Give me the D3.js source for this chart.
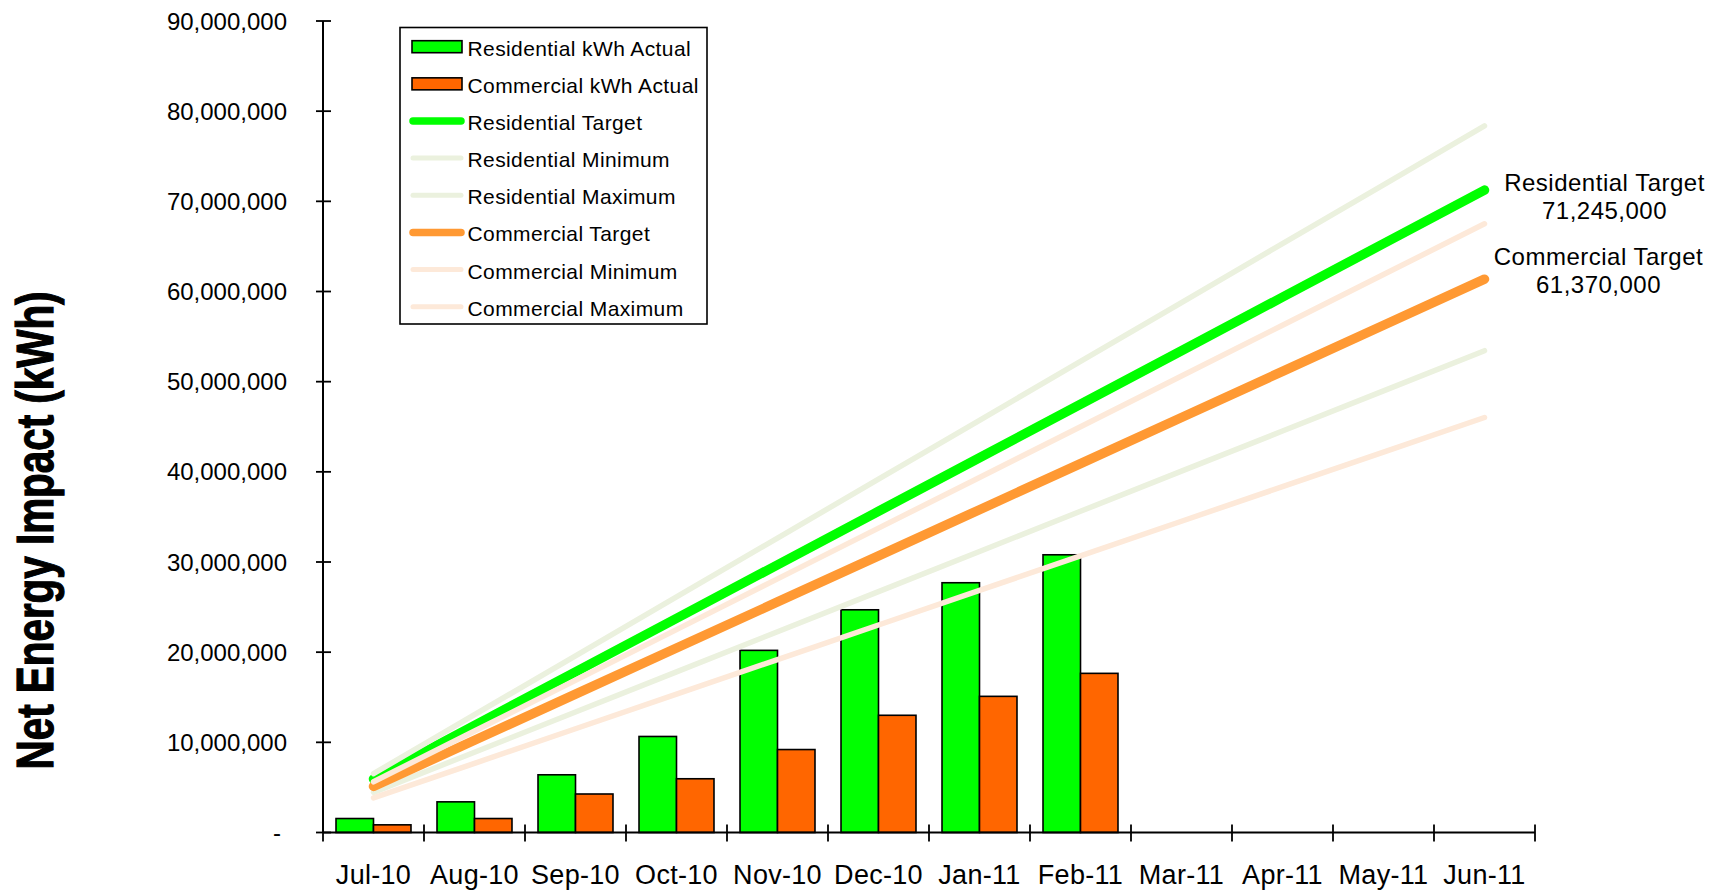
<!DOCTYPE html>
<html>
<head>
<meta charset="utf-8">
<script src="https://cdn.jsdelivr.net/npm/d3@7"></script>
<style>
  body { margin: 0; background: #fff; }
  text { font-family: "Liberation Sans", Arial, sans-serif; fill: #000; }
</style>
</head>
<body>
<svg id="chart" width="1724" height="895"></svg>
<script>
// ---- data ----
const months = ["Jul-10","Aug-10","Sep-10","Oct-10","Nov-10","Dec-10","Jan-11","Feb-11","Mar-11","Apr-11","May-11","Jun-11"];
const residentialActual = [1550000, 3400000, 6400000, 10650000, 20200000, 24700000, 27700000, 30800000];
const commercialActual  = [850000, 1550000, 4270000, 5960000, 9200000, 13000000, 15100000, 17650000];
const residentialTarget = [5937083, 11874167, 17811250, 23748333, 29685417, 35622500, 41559583, 47496667, 53433750, 59370833, 65307917, 71245000];
const residentialMinimum = [4452813, 8905625, 13358438, 17811250, 22264063, 26716875, 31169688, 35622500, 40075313, 44528125, 48980938, 53433750];
const residentialMaximum = [6530792, 13061583, 19592375, 26123167, 32653958, 39184750, 45715542, 52246333, 58777125, 65307917, 71838708, 78369500];
const commercialTarget = [5114167, 10228333, 15342500, 20456667, 25570833, 30685000, 35799167, 40913333, 46027500, 51141667, 56255833, 61370000];
const commercialMinimum = [3835625, 7671250, 11506875, 15342500, 19178125, 23013750, 26849375, 30685000, 34520625, 38356250, 42191875, 46027500];
const commercialMaximum = [5625583, 11251167, 16876750, 22502333, 28127917, 33753500, 39379083, 45004667, 50630250, 56255833, 61881417, 67507000];
const yTicks = [0, 10000000, 20000000, 30000000, 40000000, 50000000, 60000000, 70000000, 80000000, 90000000];
const yTitle = "Net Energy Impact (kWh)";
const barSeries = [
  { name: "Residential kWh Actual", values: residentialActual, color: "#00FF00" },
  { name: "Commercial kWh Actual",  values: commercialActual,  color: "#FF6600" }
];
const lineSeries = [
  { name: "Residential Target",  values: residentialTarget,  color: "#00FF00", width: 9.5 },
  { name: "Residential Minimum", values: residentialMinimum, color: "#EBF1DE", width: 5.5 },
  { name: "Residential Maximum", values: residentialMaximum, color: "#EBF1DE", width: 5.5 },
  { name: "Commercial Target",   values: commercialTarget,   color: "#FF9933", width: 9.5 },
  { name: "Commercial Minimum",  values: commercialMinimum,  color: "#FDE9D9", width: 5.5 },
  { name: "Commercial Maximum",  values: commercialMaximum,  color: "#FDE9D9", width: 5.5 }
];
const endLabels = [
  { series: "Residential Target",  lines: ["Residential Target", "71,245,000"], dx: 120, dy: 1 },
  { series: "Commercial Target",   lines: ["Commercial Target", "61,370,000"], dx: 114, dy: -14 }
];

// ---- layout ----
const svg = d3.select("#chart");
const plotLeft = 323, plotRight = 1535, plotTop = 21, plotBottom = 832.5;

const x = d3.scaleBand().domain(months).range([plotLeft, plotRight]).padding(0);
const xSub = d3.scaleBand().domain(barSeries.map(d => d.name)).range([0, x.bandwidth()]).paddingInner(0).paddingOuter(0.347);
const y = d3.scaleLinear().domain([0, 90000000]).range([plotBottom, plotTop]);
const fmt = d3.format(",");

// y axis
const yAxisG = svg.append("g");
yAxisG.append("line").attr("x1", plotLeft).attr("x2", plotLeft).attr("y1", plotTop).attr("y2", plotBottom)
  .attr("stroke", "#000").attr("stroke-width", 2);
yAxisG.selectAll("line.tick").data(yTicks).join("line").attr("class", "tick")
  .attr("x1", plotLeft - 7).attr("x2", plotLeft + 8)
  .attr("y1", d => y(d)).attr("y2", d => y(d))
  .attr("stroke", "#000").attr("stroke-width", 1.8);
yAxisG.selectAll("text").data(yTicks).join("text")
  .attr("x", d => d === 0 ? 281 : 287)
  .attr("y", d => y(d))
  .attr("dy", "0.36em")
  .attr("text-anchor", "end")
  .style("font-size", "24px")
  .text(d => d === 0 ? "-" : fmt(d));

// bars
const barG = svg.append("g");
barSeries.forEach(s => {
  barG.selectAll(null).data(s.values).join("rect")
    .attr("x", (d, i) => x(months[i]) + xSub(s.name))
    .attr("width", xSub.bandwidth())
    .attr("y", d => y(d))
    .attr("height", d => y(0) - y(d))
    .attr("fill", s.color)
    .attr("stroke", "#000")
    .attr("stroke-width", 1.6);
});

// x axis
const xAxisG = svg.append("g");
xAxisG.append("line").attr("x1", plotLeft).attr("x2", plotRight).attr("y1", plotBottom).attr("y2", plotBottom)
  .attr("stroke", "#000").attr("stroke-width", 2);
const xTickPos = months.map(m => x(m)).concat([plotRight]);
xAxisG.selectAll("line.tick").data(xTickPos).join("line").attr("class", "tick")
  .attr("x1", d => d).attr("x2", d => d)
  .attr("y1", plotBottom - 8).attr("y2", plotBottom + 9)
  .attr("stroke", "#000").attr("stroke-width", 1.8);
xAxisG.selectAll("text").data(months).join("text")
  .attr("x", d => x(d) + x.bandwidth() / 2)
  .attr("y", 884)
  .attr("text-anchor", "middle")
  .style("font-size", "27px")
  .style("letter-spacing", "0.3px")
  .text(d => d);

// lines
const lineGen = d3.line().x((d, i) => x(months[i]) + x.bandwidth() / 2).y(d => y(d));
const lineG = svg.append("g");
lineSeries.forEach(s => {
  lineG.append("path").datum(s.values)
    .attr("d", lineGen)
    .attr("fill", "none")
    .attr("stroke", s.color)
    .attr("stroke-width", s.width)
    .attr("stroke-linecap", "round")
    .attr("stroke-linejoin", "round");
});

// end labels
endLabels.forEach(l => {
  const s = lineSeries.find(d => d.name === l.series);
  const n = s.values.length - 1;
  const px = x(months[n]) + x.bandwidth() / 2 + l.dx;
  const py = y(s.values[n]) + l.dy;
  const t = svg.append("text").attr("text-anchor", "middle").style("font-size", "24px").style("letter-spacing", "0.5px");
  l.lines.forEach((ln, i) => {
    t.append("tspan").attr("x", px).attr("y", py + i * 28).text(ln);
  });
});

// legend
const lg = svg.append("g");
lg.append("rect").attr("x", 400).attr("y", 27.5).attr("width", 307).attr("height", 296.5)
  .attr("fill", "#fff").attr("stroke", "#000").attr("stroke-width", 1.6);
const legendItems = barSeries.map(d => ({ type: "bar", ...d })).concat(lineSeries.map(d => ({ type: "line", ...d })));
legendItems.forEach((d, i) => {
  const cy = 46.7 + i * 37.14;
  if (d.type === "bar") {
    lg.append("rect").attr("x", 412).attr("y", cy - 6).attr("width", 50).attr("height", 12)
      .attr("fill", d.color).attr("stroke", "#000").attr("stroke-width", 1.6);
  } else {
    lg.append("line").attr("x1", 413).attr("x2", 461).attr("y1", cy).attr("y2", cy)
      .attr("stroke", d.color).attr("stroke-width", d.width > 8 ? 7.5 : 5).attr("stroke-linecap", "round");
  }
  lg.append("text").attr("x", 467.5).attr("y", cy + 9).style("font-size", "21px").style("letter-spacing", "0.4px").text(d.name);
});

// y title
svg.append("text")
  .attr("transform", "translate(53,530.5) rotate(-90) scale(0.777,1)")
  .attr("text-anchor", "middle")
  .style("font-size", "52px")
  .style("font-weight", "bold")
  .style("stroke", "#000")
  .style("stroke-width", "1.2px")
  .text(yTitle);
</script>
</body>
</html>
